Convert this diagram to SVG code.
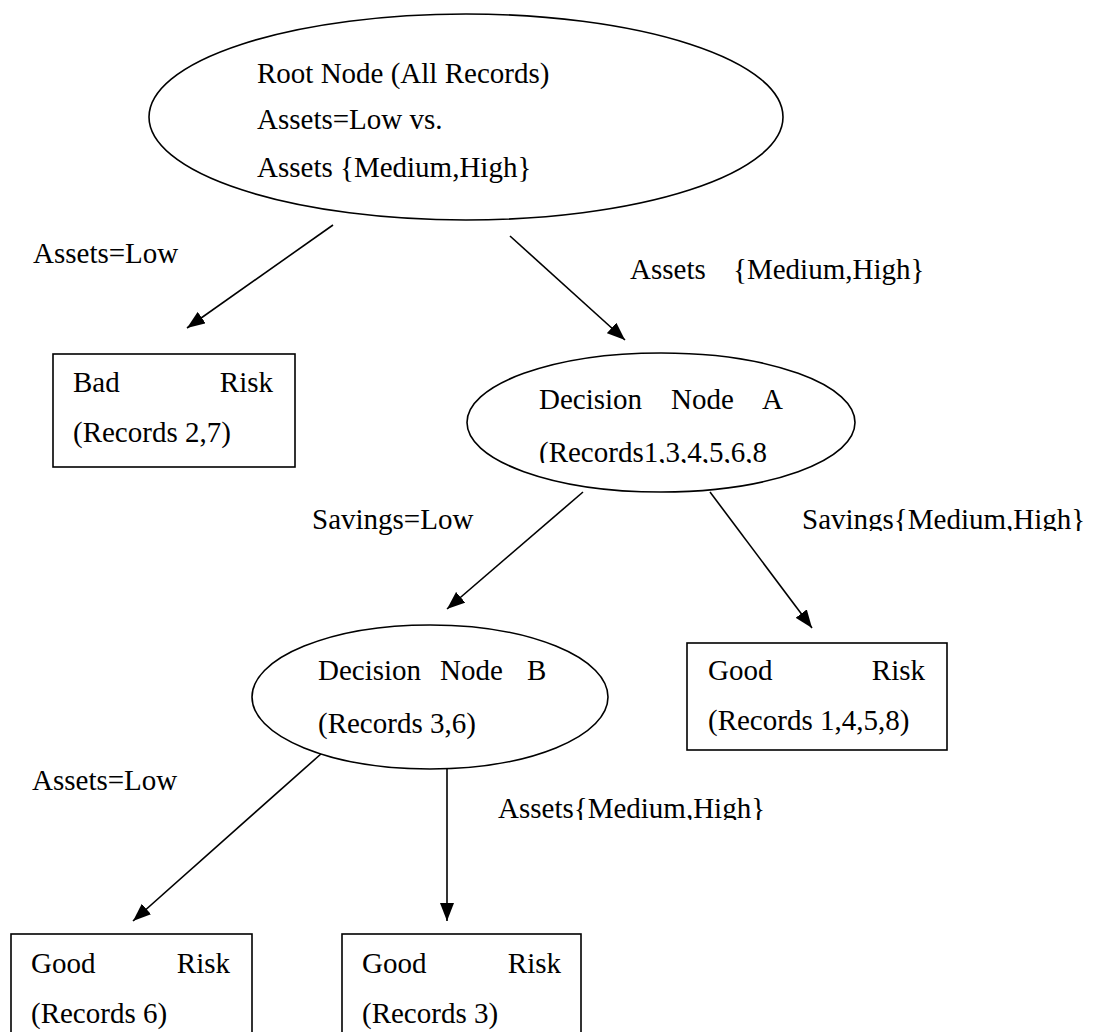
<svg xmlns="http://www.w3.org/2000/svg" width="1097" height="1032" viewBox="0 0 1097 1032">
  <style>
    .shape { fill: #ffffff; stroke: #000000; stroke-width: 1.6; }
    .edge { fill: none; stroke: #000000; stroke-width: 1.6; marker-end: url(#arrow); }
    text { font-family: "Liberation Serif", "Times New Roman", serif; font-size: 29px; fill: #000000; }
    .end { text-anchor: end; }
  </style>
  <defs>
    <marker id="arrow" viewBox="0 0 18 14" refX="18" refY="7" markerWidth="18" markerHeight="14" markerUnits="userSpaceOnUse" orient="auto">
      <path d="M0,0 L18,7 L0,14 z" fill="#000000"/>
    </marker>
    <clipPath id="clipA" clipPathUnits="userSpaceOnUse"><rect x="500" y="420" width="320" height="43"/></clipPath>
    <clipPath id="clipSav" clipPathUnits="userSpaceOnUse"><rect x="780" y="490" width="317" height="41"/></clipPath>
    <clipPath id="clipAsB" clipPathUnits="userSpaceOnUse"><rect x="480" y="780" width="320" height="40"/></clipPath>
  </defs>

  <g id="connectors">
    <line class="edge" x1="333" y1="225" x2="187" y2="328"/>
    <line class="edge" x1="510" y1="236" x2="625" y2="340"/>
    <line class="edge" x1="583" y1="492" x2="447" y2="609"/>
    <line class="edge" x1="710" y1="492" x2="812" y2="628"/>
    <line class="edge" x1="322" y1="753" x2="133" y2="921"/>
    <line class="edge" x1="447" y1="769" x2="447" y2="921"/>
    <text x="33" y="263">Assets=Low</text>
    <text y="279"><tspan x="630">Assets</tspan><tspan x="733">{Medium,High}</tspan></text>
    <text x="312" y="529">Savings=Low</text>
    <text x="802" y="529" clip-path="url(#clipSav)">Savings{Medium,High}</text>
    <text x="32" y="790">Assets=Low</text>
    <text x="498" y="818" clip-path="url(#clipAsB)">Assets{Medium,High}</text>
  </g>

  <g id="root">
    <ellipse class="shape" cx="466" cy="117" rx="317" ry="103"/>
    <text x="257" y="83">Root Node (All Records)</text>
    <text x="257" y="129">Assets=Low vs.</text>
    <text x="257" y="177">Assets {Medium,High}</text>
  </g>

  <g id="bad-risk">
    <rect class="shape" x="53" y="354" width="242" height="113"/>
    <text x="73" y="392">Bad</text>
    <text class="end" x="273" y="392">Risk</text>
    <text x="73" y="442">(Records 2,7)</text>
  </g>

  <g id="decision-a">
    <ellipse class="shape" cx="661" cy="422.5" rx="194" ry="69.5"/>
    <text x="539" y="409">Decision</text>
    <text x="671" y="409">Node</text>
    <text x="762" y="409">A</text>
    <text x="539" y="462" clip-path="url(#clipA)">(Records1,3,4,5,6,8</text>
  </g>

  <g id="good-risk-1458">
    <rect class="shape" x="687" y="643" width="260" height="107"/>
    <text x="708" y="680">Good</text>
    <text class="end" x="925" y="680">Risk</text>
    <text x="708" y="730">(Records 1,4,5,8)</text>
  </g>

  <g id="decision-b">
    <ellipse class="shape" cx="430" cy="697" rx="178" ry="72"/>
    <text x="318" y="680">Decision</text>
    <text x="440" y="680">Node</text>
    <text x="527" y="680">B</text>
    <text x="318" y="733">(Records 3,6)</text>
  </g>

  <g id="good-risk-6">
    <rect class="shape" x="11" y="934" width="241" height="120"/>
    <text x="31" y="973">Good</text>
    <text class="end" x="230" y="973">Risk</text>
    <text x="31" y="1023">(Records 6)</text>
  </g>

  <g id="good-risk-3">
    <rect class="shape" x="342" y="934" width="239" height="120"/>
    <text x="362" y="973">Good</text>
    <text class="end" x="561" y="973">Risk</text>
    <text x="362" y="1023">(Records 3)</text>
  </g>
</svg>
